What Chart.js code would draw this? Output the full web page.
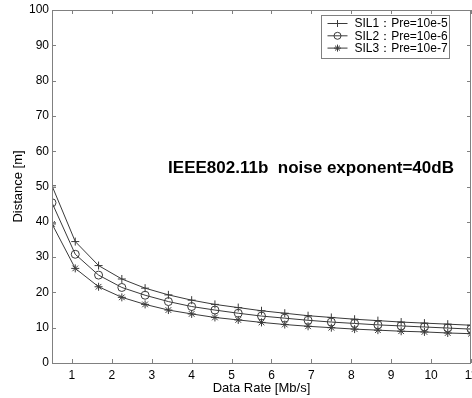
<!DOCTYPE html>
<html>
<head>
<meta charset="utf-8">
<script src="https://cdn.jsdelivr.net/npm/chart.js@4.4.0/dist/chart.umd.min.js"></script>
<style>
  html, body { margin: 0; padding: 0; background: #fff; overflow: hidden; }
  #wrap { width: 484px; height: 398px; position: relative; }
</style>
</head>
<body>
<div id="wrap"><canvas id="chart"></canvas></div>
<script>
// data rate in Mb/s (x values shared by every curve)
const dataRate = [0.5, 1.083, 1.667, 2.25, 2.833, 3.417, 4, 4.583, 5.167, 5.75,
                  6.333, 6.917, 7.5, 8.083, 8.667, 9.25, 9.833, 10.417, 11];
// distance [m]
const sil1 = [50.2, 34.4, 27.6, 23.8, 21.2, 19.3, 17.8, 16.6, 15.7, 14.8,
              14.1, 13.4, 12.9, 12.4, 12.0, 11.6, 11.3, 11.0, 10.7];
const sil2 = [45.4, 30.8, 24.9, 21.4, 19.2, 17.4, 16.0, 15.0, 14.1, 13.3,
              12.7, 12.1, 11.6, 11.2, 10.8, 10.5, 10.2, 9.9, 9.6];
const sil3 = [39.4, 26.8, 21.6, 18.6, 16.6, 15.0, 13.9, 12.9, 12.2, 11.5,
              10.9, 10.4, 10.0, 9.6, 9.3, 9.0, 8.8, 8.5, 8.3];
const seriesNames = ["SIL1\uFF1APre=10e-5", "SIL2\uFF1APre=10e-6", "SIL3\uFF1APre=10e-7"];
const seriesMarkers = ["cross", "circle", "star"];
const xTicks = [1, 2, 3, 4, 5, 6, 7, 8, 9, 10, 11];
const yTicks = [0, 10, 20, 30, 40, 50, 60, 70, 80, 90, 100];
const noteText = "IEEE802.11b  noise exponent=40dB";

const FONT = "'Liberation Sans', Arial, sans-serif";
const LINE = "#3a3a3a";
const AXIS = "#808080";

function toPoints(ys) {
  return ys.map((y, i) => ({ x: dataRate[i], y: y }));
}

const datasets = [sil1, sil2, sil3].map((ys, i) => ({
  label: seriesNames[i],
  data: toPoints(ys),
  borderColor: LINE,
  borderWidth: 1,
  pointStyle: seriesMarkers[i],
  pointRadius: 4,
  pointBorderColor: LINE,
  pointBackgroundColor: "rgba(0,0,0,0)",
  pointBorderWidth: 1,
  tension: 0,
  fill: false,
}));

// box, inward ticks, note and legend in the matlab style
const matlabFrame = {
  id: "matlabFrame",
  afterDraw(chart) {
    const ctx = chart.ctx;
    const a = chart.chartArea;
    const sx = chart.scales.x;
    const sy = chart.scales.y;
    const tl = 4;
    ctx.save();
    ctx.strokeStyle = AXIS;
    ctx.lineWidth = 1;
    ctx.strokeRect(Math.round(a.left) + 0.5, Math.round(a.top) + 0.5,
                   Math.round(a.right - a.left) - 1, Math.round(a.bottom - a.top));
    ctx.beginPath();
    xTicks.forEach(v => {
      const px = Math.round(sx.getPixelForValue(v)) + 0.5;
      ctx.moveTo(px, a.bottom); ctx.lineTo(px, a.bottom - tl);
      ctx.moveTo(px, a.top); ctx.lineTo(px, a.top + tl);
    });
    yTicks.forEach(v => {
      const py = Math.round(sy.getPixelForValue(v)) + 0.5;
      ctx.moveTo(a.left, py); ctx.lineTo(a.left + tl, py);
      ctx.moveTo(a.right, py); ctx.lineTo(a.right - tl, py);
    });
    ctx.stroke();

    // note text
    ctx.fillStyle = "#000";
    ctx.font = "bold 17px " + FONT;
    ctx.textBaseline = "alphabetic";
    ctx.textAlign = "left";
    ctx.fillText(noteText, sx.getPixelForValue(3.41), sy.getPixelForValue(53.8));

    // legend
    const lx = Math.round(a.right) - 149.5, ly = Math.round(a.top) + 5.5;
    const lw = 128, lh = 43;
    ctx.fillStyle = "#fff";
    ctx.fillRect(lx, ly, lw, lh);
    ctx.strokeStyle = AXIS;
    ctx.strokeRect(lx, ly, lw, lh);
    ctx.font = "12px " + FONT;
    ctx.textBaseline = "middle";
    chart.data.datasets.forEach((ds, i) => {
      const y = ly + 8 + i * 12.3;
      ctx.strokeStyle = LINE;
      ctx.beginPath();
      ctx.moveTo(lx + 6, y); ctx.lineTo(lx + 26, y);
      ctx.stroke();
      ctx.fillStyle = "rgba(0,0,0,0)";
      Chart.helpers.drawPoint(ctx, { pointStyle: ds.pointStyle, radius: 3.5, borderWidth: 1, rotation: 0 }, lx + 16, y);
      ctx.fillStyle = "#000";
      ctx.fillText(ds.label, lx + 33, y + 0.5);
    });
    ctx.restore();
  },
};

new Chart(document.getElementById("chart"), {
  type: "line",
  data: { datasets: datasets },
  options: {
    responsive: true,
    maintainAspectRatio: false,
    animation: false,
    devicePixelRatio: 1,
    // canvas is 484 wide so the box right edge sits at 471, last label clipped by the window
    layout: { padding: { top: 10, right: 13, bottom: 0, left: 0 } },
    plugins: { legend: { display: false }, tooltip: { enabled: false } },
    scales: {
      x: {
        type: "linear",
        min: 0.5,
        max: 11,
        afterBuildTicks: s => { s.ticks = xTicks.map(v => ({ value: v })); },
        afterFit: s => { s.height = 35; s.paddingLeft = 0; s.paddingRight = 0; },
        grid: { display: false, drawTicks: false },
        border: { display: false },
        ticks: { color: "#000", font: { family: FONT, size: 12 }, padding: 5, maxRotation: 0, autoSkip: false },
        title: { display: true, text: "Data Rate [Mb/s]", color: "#000", font: { family: FONT, size: 13 }, padding: { top: 0, bottom: 2 } },
      },
      y: {
        min: 0,
        max: 100,
        afterBuildTicks: s => { s.ticks = yTicks.map(v => ({ value: v })); },
        afterFit: s => { s.width = 52; s.paddingTop = 0; s.paddingBottom = 0; },
        grid: { display: false, drawTicks: false },
        border: { display: false },
        ticks: { color: "#000", font: { family: FONT, size: 12 }, padding: 3 },
        title: { display: true, text: "Distance [m]", color: "#000", font: { family: FONT, size: 13 }, padding: { top: 11, bottom: 0 } },
      },
    },
  },
  plugins: [matlabFrame],
});
</script>
</body>
</html>
